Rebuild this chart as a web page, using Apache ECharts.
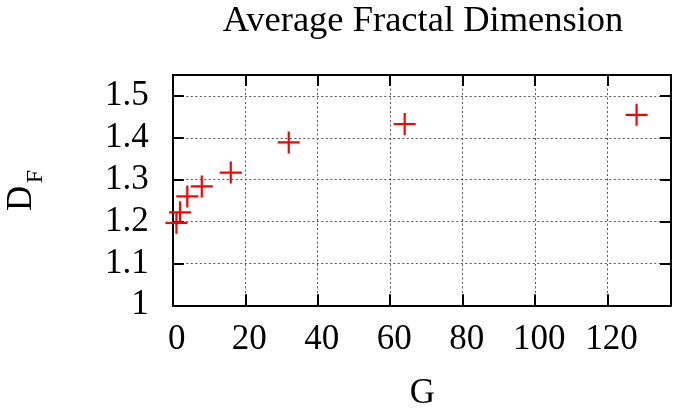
<!DOCTYPE html>
<html><head><meta charset="utf-8">
<script src="https://cdn.jsdelivr.net/npm/echarts@6/dist/echarts.min.js"></script>
<style>html,body{margin:0;padding:0;background:#fff}#c{width:674px;height:408px}</style>
</head><body><div id="c"></div>
<script>
const gValues = [1, 2, 4, 8, 16, 32, 64, 128];
const dfValues = [1.197, 1.222, 1.260, 1.284, 1.317, 1.389, 1.433, 1.455];
const xTickValues = [0, 20, 40, 60, 80, 100, 120];
const yTickValues = [1, 1.1, 1.2, 1.3, 1.4, 1.5];
const titleText = 'Average Fractal Dimension';
const xName = 'G';
const yNameMain = 'D';
const yNameSub = 'F';

const FONT = '"Liberation Serif", "DejaVu Serif", serif';
const chart = echarts.init(document.getElementById('c'), null, {renderer: 'canvas'});
const plusPath = 'path://M9,0h2v9h9v2h-9v9h-2v-9h-9v-2h9z';

const gridLine = {show: true, lineStyle: {color: '#555', width: 1, type: [2, 2.5]}};
const axisLine = {show: true, onZero: false, lineStyle: {color: '#000', width: 2}};
const tickIn = {show: true, inside: true, length: 11, lineStyle: {color: '#000', width: 2}};

chart.setOption({
  animation: false,
  backgroundColor: '#fff',
  grid: {left: 172.8, right: 0.5, top: 75, bottom: 102.7, containLabel: false},
  xAxis: [{
    type: 'value', position: 'bottom', min: 0, max: 137.5, interval: 20,
    axisLine: axisLine, axisTick: tickIn, splitLine: gridLine,
    axisLabel: {
      show: true, margin: 17, fontSize: 35, fontFamily: FONT, color: '#000',
      padding: [0, 0, 0, 8],
      formatter: v => (xTickValues.indexOf(v) >= 0 ? String(v) : '')
    }
  }, {
    type: 'value', position: 'top', min: 0, max: 137.5, interval: 20,
    axisLine: axisLine, axisTick: tickIn, splitLine: {show: false}, axisLabel: {show: false}
  }],
  yAxis: [{
    type: 'value', position: 'left', min: 1, max: 1.55, interval: 0.1,
    axisLine: axisLine, axisTick: tickIn, splitLine: gridLine,
    axisLabel: {
      show: true, margin: 24, fontSize: 35, fontFamily: FONT, color: '#000',
      formatter: v => {
        const r = Math.round(v * 10) / 10;
        return (Math.abs(r - v) < 1e-6 && yTickValues.some(t => Math.abs(t - r) < 1e-6)) ? String(r) : '';
      }
    }
  }, {
    type: 'value', position: 'right', min: 1, max: 1.55, interval: 0.1,
    axisLine: axisLine, axisTick: tickIn, splitLine: {show: false}, axisLabel: {show: false}
  }],
  series: [{
    type: 'scatter',
    xAxisIndex: 0, yAxisIndex: 0,
    data: gValues.map((g, i) => [g, dfValues[i]]),
    symbol: plusPath,
    symbolSize: 22,
    itemStyle: {color: '#ff0000', opacity: 1},
    z: 5
  }],
  graphic: [
    {type: 'text', x: 423, y: 21.7, z: 10, style: {text: titleText, font: '36.5px ' + FONT, fill: '#000', textAlign: 'center', textVerticalAlign: 'middle'}},
    {type: 'text', x: 422.5, y: 394.3, z: 10, style: {text: xName, font: '35px ' + FONT, fill: '#000', textAlign: 'center', textVerticalAlign: 'middle'}},
    {type: 'text', x: 22, y: 198.3, rotation: Math.PI / 2, z: 10, style: {text: yNameMain, font: '35px ' + FONT, fill: '#000', textAlign: 'center', textVerticalAlign: 'middle'}},
    {type: 'text', x: 36, y: 176.5, rotation: Math.PI / 2, z: 10, style: {text: yNameSub, font: '24px ' + FONT, fill: '#000', textAlign: 'center', textVerticalAlign: 'middle'}}
  ]
});
</script></body></html>
